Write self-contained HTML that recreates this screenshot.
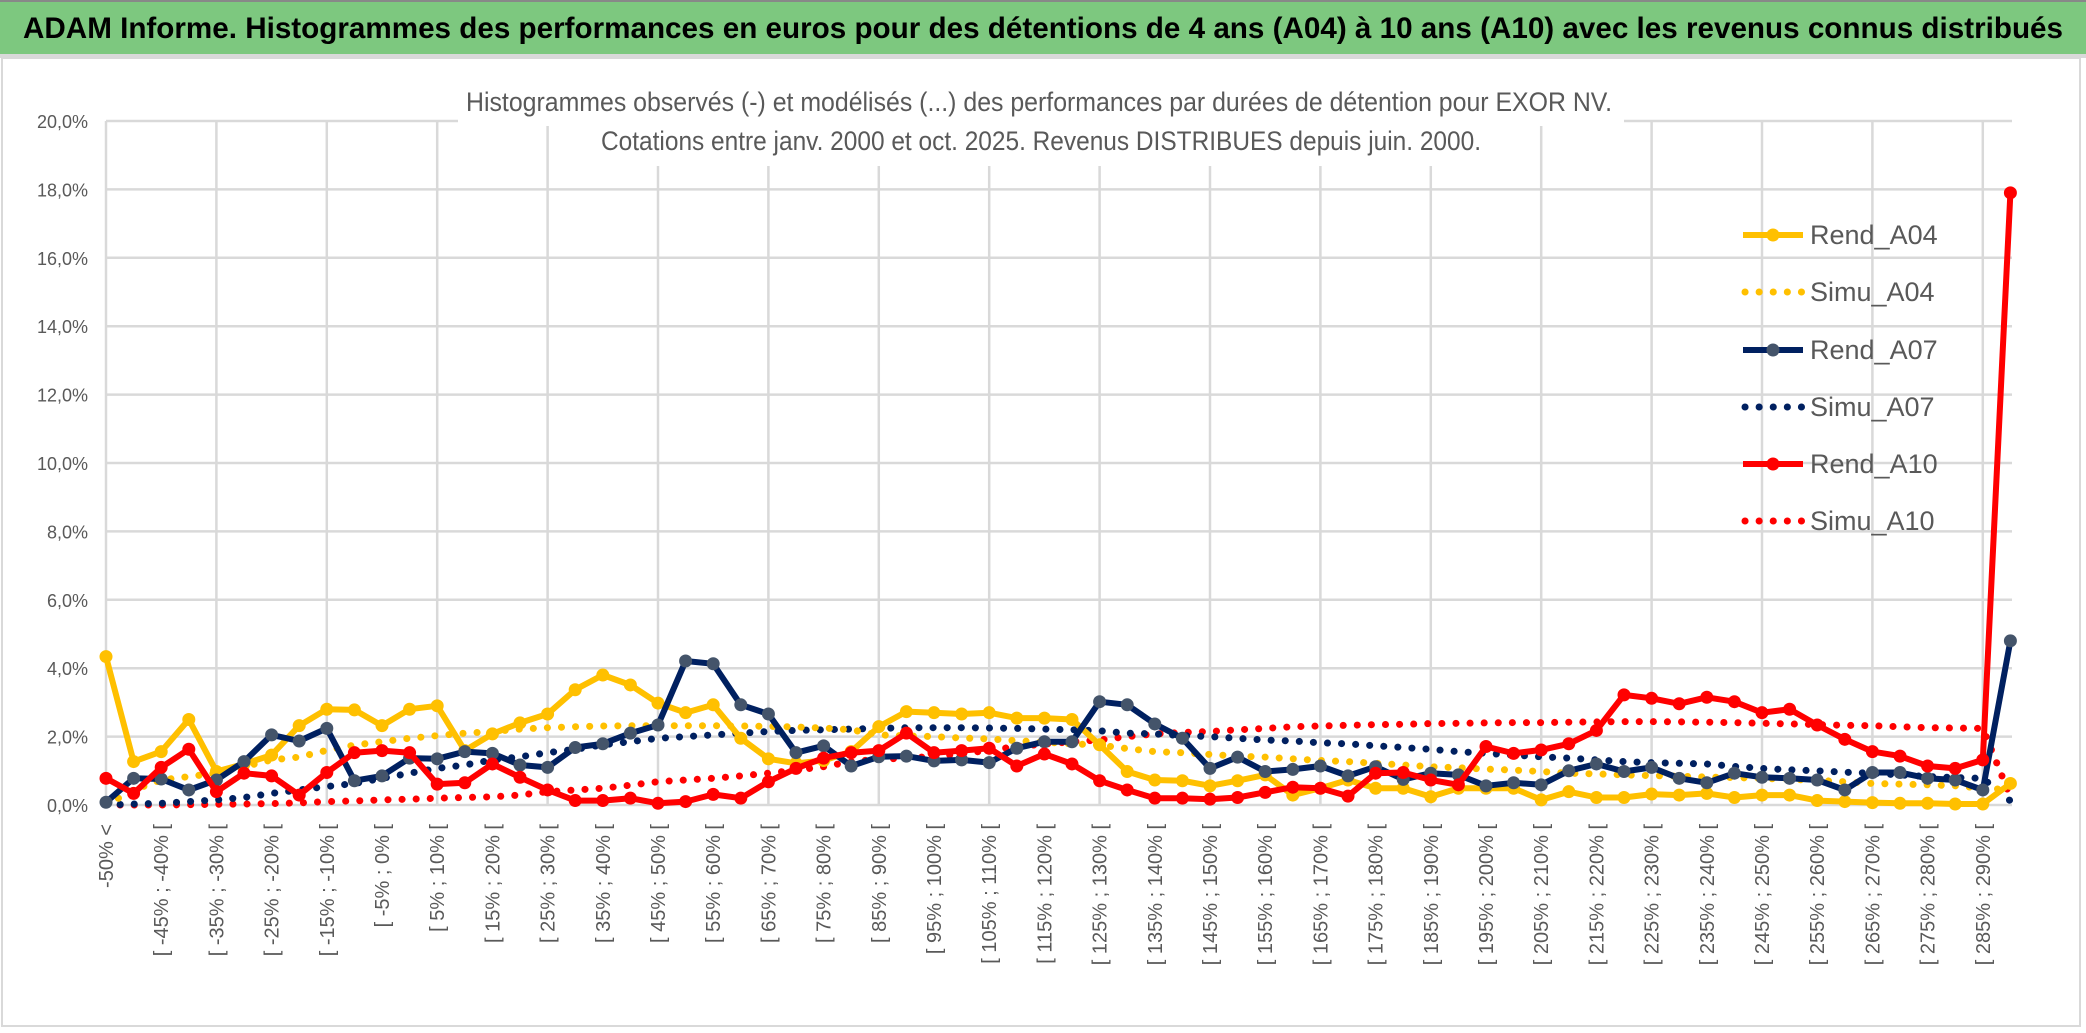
<!DOCTYPE html>
<html><head><meta charset="utf-8"><style>
html,body{margin:0;padding:0;background:#fff;}
svg{display:block;font-family:"Liberation Sans",sans-serif;}
</style></head><body>
<svg id="chart" width="2086" height="1033" viewBox="0 0 2086 1033" xmlns="http://www.w3.org/2000/svg">
<rect x="0" y="0" width="2086" height="1033" fill="#fff"/>
<rect x="0" y="0" width="2086" height="54" fill="#7dc87f"/>
<rect x="0" y="0" width="2086" height="2" fill="#888"/>
<text x="1043" y="38" text-anchor="middle" font-size="30" font-weight="bold" fill="#000" textLength="2040" lengthAdjust="spacingAndGlyphs">ADAM Informe. Histogrammes des performances en euros pour des détentions de 4 ans (A04) à 10 ans (A10) avec les revenus connus distribués</text>
<rect x="0" y="54" width="2086" height="4" fill="#d9d9d9"/>
<rect x="2" y="58" width="2078" height="968" fill="none" stroke="#d9d9d9" stroke-width="2"/>
<g id="grid"></g>
<g id="yaxis"></g>
<g id="xaxis"></g>
<g id="series"></g>
<rect x="458" y="84" width="1166" height="42" fill="#fff"/>
<rect x="592" y="124" width="902" height="42" fill="#fff"/>
<text x="1039" y="111" text-anchor="middle" font-size="27" fill="#595959" textLength="1146" lengthAdjust="spacingAndGlyphs">Histogrammes observés (-) et modélisés (...) des performances par durées de détention pour EXOR NV.</text>
<text x="1041" y="150" text-anchor="middle" font-size="27" fill="#595959" textLength="880" lengthAdjust="spacingAndGlyphs">Cotations entre janv. 2000 et oct. 2025. Revenus DISTRIBUES depuis juin. 2000.</text>
<g id="legend"></g>
</svg>
<script>
const yTicks = [0,2,4,6,8,10,12,14,16,18,20];
const rendA04 = [4.34,1.27,1.56,2.5,0.98,1.2,1.46,2.32,2.8,2.78,2.32,2.8,2.9,1.59,2.08,2.4,2.66,3.37,3.8,3.51,2.98,2.7,2.93,1.95,1.35,1.22,1.3,1.56,2.29,2.73,2.7,2.66,2.7,2.54,2.54,2.5,1.76,0.98,0.73,0.71,0.56,0.71,0.88,0.29,0.49,0.73,0.49,0.49,0.24,0.49,0.49,0.49,0.15,0.39,0.22,0.22,0.32,0.29,0.34,0.22,0.29,0.29,0.13,0.1,0.07,0.05,0.05,0.03,0.03,0.63];
const simuA04 = [0,0.44,0.73,0.83,0.93,1.12,1.32,1.4,1.6,1.75,1.85,1.95,2.03,2.1,2.15,2.22,2.26,2.29,2.31,2.32,2.32,2.32,2.32,2.31,2.3,2.28,2.25,2.2,2.05,2.02,2.0,1.96,1.93,1.88,1.84,1.79,1.75,1.65,1.56,1.53,1.48,1.43,1.4,1.35,1.3,1.27,1.22,1.17,1.12,1.09,1.05,1.02,0.98,0.93,0.91,0.88,0.86,0.84,0.82,0.8,0.78,0.75,0.72,0.68,0.63,0.61,0.59,0.56,0.49,0.45];
const rendA07 = [0.08,0.78,0.76,0.44,0.73,1.27,2.05,1.87,2.24,0.71,0.85,1.37,1.35,1.56,1.51,1.17,1.1,1.68,1.79,2.1,2.34,4.21,4.13,2.93,2.66,1.53,1.73,1.14,1.41,1.43,1.29,1.32,1.24,1.66,1.85,1.85,3.02,2.93,2.37,1.95,1.07,1.4,0.98,1.04,1.14,0.85,1.12,0.75,0.93,0.88,0.56,0.65,0.59,1.0,1.2,0.98,1.1,0.78,0.65,0.93,0.81,0.78,0.73,0.44,0.95,0.95,0.78,0.73,0.44,4.8];
const simuA07 = [0,0.03,0.05,0.1,0.15,0.22,0.34,0.44,0.54,0.63,0.78,0.93,1.07,1.17,1.32,1.41,1.53,1.63,1.76,1.85,1.95,2.0,2.05,2.1,2.15,2.18,2.2,2.22,2.24,2.26,2.26,2.26,2.25,2.24,2.22,2.2,2.17,2.1,2.08,2.03,2.0,1.95,1.9,1.87,1.82,1.79,1.73,1.68,1.63,1.56,1.51,1.46,1.41,1.37,1.32,1.27,1.24,1.22,1.2,1.13,1.07,1.03,1.0,0.96,0.93,0.88,0.83,0.8,0.78,0.12];
const rendA10 = [0.78,0.34,1.1,1.63,0.39,0.93,0.85,0.29,0.95,1.53,1.59,1.53,0.61,0.65,1.2,0.81,0.44,0.13,0.13,0.2,0.05,0.1,0.31,0.2,0.68,1.07,1.37,1.53,1.59,2.1,1.53,1.59,1.66,1.14,1.49,1.2,0.71,0.44,0.2,0.2,0.17,0.22,0.37,0.52,0.49,0.26,0.93,0.95,0.73,0.59,1.71,1.51,1.61,1.79,2.18,3.22,3.12,2.96,3.15,3.02,2.7,2.8,2.34,1.92,1.56,1.43,1.14,1.07,1.32,17.9];
const simuA10 = [0,0,0,0.01,0.02,0.03,0.04,0.06,0.1,0.12,0.15,0.17,0.2,0.22,0.24,0.29,0.39,0.44,0.49,0.58,0.68,0.73,0.78,0.85,0.93,1.02,1.12,1.27,1.34,1.37,1.42,1.5,1.6,1.71,1.78,1.85,1.9,2.0,2.08,2.12,2.15,2.2,2.24,2.29,2.31,2.33,2.35,2.36,2.38,2.39,2.4,2.41,2.41,2.42,2.43,2.44,2.44,2.43,2.42,2.41,2.39,2.37,2.35,2.33,2.32,2.29,2.26,2.25,2.24,0.24];
const seriesNames = ["Rend_A04","Simu_A04","Rend_A07","Simu_A07","Rend_A10","Simu_A10"];

const NS="http://www.w3.org/2000/svg";
const X0=106, DX=27.6, Y0=805, PY=34.2, XR=2012;
function xPos(i){return X0+i*DX;}
function yPos(v){return Y0-v*PY;}
function mk(tag,attrs,parent){const e=document.createElementNS(NS,tag);for(const k in attrs)e.setAttribute(k,attrs[k]);parent.appendChild(e);return e;}
function catLabel(i){if(i===0)return "-50% <";const lo=-50+5*(i-1);return "[ "+lo+"% ; "+(lo+5)+"% [";}

const grid=document.getElementById('grid'), ya=document.getElementById('yaxis'), xa=document.getElementById('xaxis');
yTicks.forEach(t=>{
  const l=mk('line',{x1:X0,x2:XR,y1:yPos(t),y2:yPos(t),stroke:'#d9d9d9','stroke-width':2.5},grid);
  
  
  const tx=mk('text',{x:88,y:yPos(t)+7,'text-anchor':'end','font-size':18,fill:'#595959'},ya);
  tx.textContent=t.toFixed(1).replace('.',',')+'%';
  
  
});
for(let i=0;i<rendA04.length;i+=4){
  const l=mk('line',{x1:xPos(i),x2:xPos(i),y1:yPos(20),y2:Y0,stroke:'#d9d9d9','stroke-width':2.5},grid);
  
  
}
for(let i=0;i<rendA04.length;i+=2){
  const tx=mk('text',{transform:'translate('+(xPos(i)+7)+',824) rotate(-90)','text-anchor':'end','font-size':20,fill:'#595959'},xa);
  tx.textContent=catLabel(i);
  
  
}

const sg=document.getElementById('series');
function pts(arr){return arr.map((v,i)=>xPos(i).toFixed(1)+','+yPos(v).toFixed(1)).join(' ');}
function dotted(arr,color,name){
  const p=mk('polyline',{points:pts(arr),fill:'none',stroke:color,'stroke-width':7,'stroke-linecap':'round','stroke-dasharray':'0.1 14'},sg);
  
  
}
function solid(arr,color,mcolor,name){
  const g=mk('g',{},sg);
  
  
  mk('polyline',{points:pts(arr),fill:'none',stroke:color,'stroke-width':6,'stroke-linejoin':'round'},g);
  arr.forEach((v,i)=>{
    const c=mk('circle',{cx:xPos(i),cy:yPos(v),r:6.5,fill:mcolor},g);
    
    
  });
}
dotted(simuA10,'#ff0000','simu-a10-line');
dotted(simuA07,'#002060','simu-a07-line');
dotted(simuA04,'#ffc000','simu-a04-line');
solid(rendA04,'#ffc000','#ffc000','rend-a04-line');
solid(rendA07,'#002060','#44546a','rend-a07-line');
solid(rendA10,'#ff0000','#ff0000','rend-a10-line');

const lg=document.getElementById('legend');
const lcol=['#ffc000','#ffc000','#002060','#002060','#ff0000','#ff0000'];
const lmark=['#ffc000',null,'#44546a',null,'#ff0000',null];
const lys=[235,292,350,407,464,521];
seriesNames.forEach((n,k)=>{
  const g=mk('g',{},lg);
  
  
  const y=lys[k];
  if(lmark[k]){
    mk('line',{x1:1743,x2:1803,y1:y,y2:y,stroke:lcol[k],'stroke-width':6},g);
    mk('circle',{cx:1773,cy:y,r:6.5,fill:lmark[k]},g);
  } else {
    mk('line',{x1:1745,x2:1803,y1:y,y2:y,stroke:lcol[k],'stroke-width':7,'stroke-linecap':'round','stroke-dasharray':'0.1 14'},g);
  }
  const t=mk('text',{x:1810,y:y+9,'font-size':27,fill:'#595959'},g);
  t.textContent=n;
});
</script>
</body></html>
